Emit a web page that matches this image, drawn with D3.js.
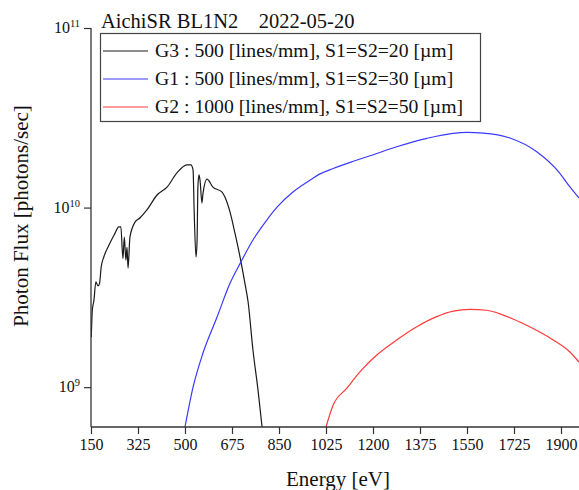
<!DOCTYPE html>
<html>
<head>
<meta charset="utf-8">
<script src="https://cdn.jsdelivr.net/npm/d3@7"></script>
<style>
  body { margin: 0; background: #fff; }
  svg { display: block; font-family: "Liberation Serif", "Times New Roman", serif; }
</style>
</head>
<body>
<div id="chart"></div>
<script>
// G3 : 500 lines/mm, S1=S2=20um
var g3Energy = [151, 155, 161, 168, 176, 182, 188, 198, 217, 236, 254, 261, 269, 274, 280, 284, 288, 295, 314, 332, 358, 396, 433, 470, 507, 522, 530, 534, 541, 545, 548, 552, 556, 563, 567, 582, 604, 638, 649, 668, 686, 705, 723, 735, 753, 772, 787];
var g3Flux = [1.9e9, 2.69e9, 3.05e9, 3.86e9, 3.66e9, 3.8e9, 4.68e9, 5.32e9, 6.18e9, 7.03e9, 7.81e9, 7.81e9, 5.2e9, 6.85e9, 5.1e9, 6.0e9, 4.6e9, 6.85e9, 8.3e9, 8.75e9, 9.7e9, 1.175e10, 1.3e10, 1.56e10, 1.73e10, 1.73e10, 1.62e10, 9.7e9, 5.3e9, 6.6e9, 1.3e10, 1.52e10, 1.42e10, 1.06e10, 1.2e10, 1.44e10, 1.3e10, 1.22e10, 1.14e10, 9.4e9, 7.2e9, 5.3e9, 3.8e9, 2.98e9, 1.61e9, 9.6e8, 6.0e8];
// G1 : 500 lines/mm, S1=S2=30um
var g1Energy = [500, 530, 567, 619, 668, 708, 753, 786, 841, 903, 965, 1003, 1052, 1127, 1201, 1288, 1401, 1498, 1550, 1610, 1710, 1811, 1885, 1934, 1967];
var g1Flux = [6.0e8, 1.0e9, 1.55e9, 2.45e9, 3.8e9, 4.97e9, 6.6e9, 7.8e9, 1.0e10, 1.225e10, 1.42e10, 1.54e10, 1.65e10, 1.81e10, 1.97e10, 2.18e10, 2.43e10, 2.59e10, 2.62e10, 2.6e10, 2.44e10, 2.04e10, 1.62e10, 1.3e10, 1.13e10];
// G2 : 1000 lines/mm, S1=S2=50um
var g2Energy = [1025, 1051, 1102, 1152, 1214, 1288, 1363, 1437, 1499, 1561, 1623, 1685, 1772, 1871, 1933, 1967];
var g2Flux = [6.0e8, 7.9e8, 9.84e8, 1.22e9, 1.51e9, 1.83e9, 2.17e9, 2.47e9, 2.65e9, 2.71e9, 2.68e9, 2.52e9, 2.21e9, 1.83e9, 1.57e9, 1.38e9];

var xTicks = [150, 325, 500, 675, 850, 1025, 1200, 1375, 1550, 1725, 1900];
var yMajor = [1e9, 1e10, 1e11];
var seriesNames = ["G3 : 500 [lines/mm], S1=S2=20 [\u00b5m]", "G1 : 500 [lines/mm], S1=S2=30 [\u00b5m]", "G2 : 1000 [lines/mm], S1=S2=50 [\u00b5m]"];
var seriesColors = ["#1a1a1a", "#3a3aff", "#ff3a3a"];
var chartTitle = "AichiSR BL1N2    2022-05-20";

var width = 579, height = 490;
var margin = {left: 91, top: 28, bottom: 63};

var svg = d3.select("#chart").append("svg")
    .attr("width", width)
    .attr("height", height);

var x = d3.scaleLinear().domain([150, 1967]).range([margin.left, width]);
var y = d3.scaleLog().domain([6e8, 1e11]).range([height - margin.bottom, margin.top]);

svg.append("clipPath").attr("id", "plotclip")
  .append("rect")
    .attr("x", margin.left).attr("y", margin.top)
    .attr("width", width - margin.left)
    .attr("height", height - margin.bottom - margin.top);

// curves
var line = d3.line()
    .curve(d3.curveMonotoneX)
    .x(function (d) { return x(d[0]); })
    .y(function (d) { return y(d[1]); });

var series = [
  d3.zip(g3Energy, g3Flux),
  d3.zip(g1Energy, g1Flux),
  d3.zip(g2Energy, g2Flux)
];

series.forEach(function (s, i) {
  svg.append("path")
    .datum(s)
    .attr("clip-path", "url(#plotclip)")
    .attr("fill", "none")
    .attr("stroke", seriesColors[i])
    .attr("stroke-width", 1.2)
    .attr("d", line);
});

// x axis
var xMinor = [];
for (var v = 150 + 87.5; v < 1967; v += 175) xMinor.push(v);

var xAxis = svg.append("g")
    .attr("transform", "translate(0," + (height - margin.bottom) + ")");
xAxis.call(d3.axisBottom(x).tickValues(xMinor).tickSize(4).tickFormat(""));
xAxis.call(d3.axisBottom(x).tickValues(xTicks).tickSize(7).tickPadding(5).tickFormat(d3.format("d")));
xAxis.selectAll(".domain").remove();
xAxis.append("line")
    .attr("x1", margin.left).attr("x2", width)
    .attr("stroke", "#333").attr("stroke-width", 1.3);
xAxis.selectAll(".tick line").attr("stroke", "#333").attr("stroke-width", 1.2);
xAxis.selectAll(".tick text")
    .attr("fill", "#111")
    .style("font-size", "16px")
    .style("font-family", "Liberation Serif");

// y axis
var yMinor = [];
[1e8, 1e9, 1e10].forEach(function (dec) {
  for (var k = 2; k <= 9; k++) {
    var val = k * dec;
    if (val >= 6e8 && val <= 1e11) yMinor.push(val);
  }
});

var yAxis = svg.append("g")
    .attr("transform", "translate(" + margin.left + ",0)");
yAxis.call(d3.axisLeft(y).tickValues(yMinor).tickSize(4).tickFormat(""));
yAxis.call(d3.axisLeft(y).tickValues(yMajor).tickSize(7).tickFormat(""));
yAxis.selectAll(".domain").remove();
yAxis.append("line")
    .attr("y1", margin.top).attr("y2", height - margin.bottom)
    .attr("stroke", "#333").attr("stroke-width", 1.3);
yAxis.selectAll(".tick line").attr("stroke", "#333").attr("stroke-width", 1.2);

// y tick labels as 10^n
yMajor.forEach(function (val) {
  var t = svg.append("text")
      .attr("x", margin.left - 11)
      .attr("y", y(val) + 5)
      .attr("text-anchor", "end")
      .attr("fill", "#111");
  t.append("tspan").style("font-size", "16px").text("10");
  t.append("tspan").style("font-size", "10.5px").attr("dy", -6).text(Math.round(Math.log10(val)));
});

// axis titles
svg.append("text")
    .attr("x", 338)
    .attr("y", 486)
    .attr("text-anchor", "middle")
    .style("font-size", "21px")
    .attr("fill", "#111")
    .text("Energy [eV]");

svg.append("text")
    .attr("transform", "translate(27.5,216) rotate(-90)")
    .attr("text-anchor", "middle")
    .style("font-size", "21px")
    .attr("fill", "#111")
    .text("Photon Flux [photons/sec]");

// title
svg.append("text")
    .attr("x", 101)
    .attr("y", 28)
    .style("font-size", "20.5px")
    .style("white-space", "pre")
    .attr("fill", "#111")
    .text(chartTitle);

// legend
var legend = svg.append("g");
legend.append("rect")
    .attr("x", 100.5).attr("y", 33.5)
    .attr("width", 380).attr("height", 88)
    .attr("fill", "#fff")
    .attr("stroke", "#444")
    .attr("stroke-width", 1.2);

seriesNames.forEach(function (name, i) {
  var cy = 51 + i * 28;
  legend.append("line")
      .attr("x1", 103).attr("x2", 148)
      .attr("y1", cy).attr("y2", cy)
      .attr("stroke", seriesColors[i])
      .attr("stroke-width", 1.2);
  legend.append("text")
      .attr("x", 155)
      .attr("y", cy + 6)
      .style("font-size", "19.7px")
      .attr("fill", "#111")
      .text(name);
});
</script>
</body>
</html>
